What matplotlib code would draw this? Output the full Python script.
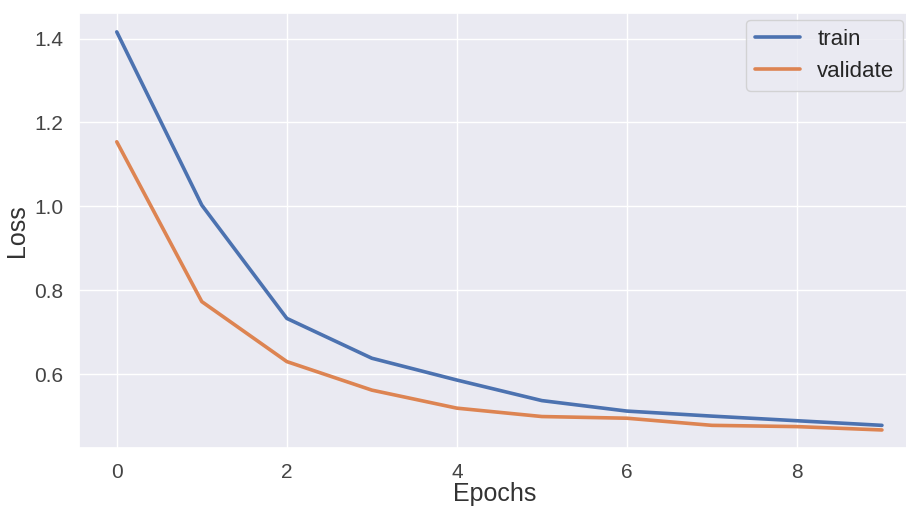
import numpy as np
import matplotlib
matplotlib.use("Agg")
import matplotlib.pyplot as plt
import seaborn as sns

# loss per epoch
epochs = np.arange(10)
train_loss = [1.416, 1.003, 0.733, 0.638, 0.586, 0.537, 0.512, 0.500, 0.489, 0.478]
val_loss = [1.154, 0.773, 0.630, 0.562, 0.519, 0.499, 0.495, 0.478, 0.475, 0.467]

sns.set_theme(style="darkgrid")
plt.rcParams['font.family'] = ['Liberation Sans', 'DejaVu Sans']

fig = plt.figure(figsize=(9.06, 5.08), dpi=100)
ax = fig.add_axes([78.5 / 906, 60 / 508, 831.5 / 906, 435 / 508])

ax.plot(epochs, train_loss, color='#4c72b0', lw=2.6, label='train')
ax.plot(epochs, val_loss, color='#dd8452', lw=2.6, label='validate')

ax.set_xlim(-0.45, 9.33)
ax.set_ylim(0.424, 1.461)
ax.set_yticks([0.6, 0.8, 1.0, 1.2, 1.4])
ax.tick_params(labelsize=15, colors='#444444', pad=5)
ax.set_xlabel("Epochs", fontsize=18, color='#333333', labelpad=0)
ax.set_ylabel("Loss", fontsize=18, color='#333333', labelpad=4)
ax.legend(loc='upper right', fontsize=16, borderaxespad=0.3)

fig.savefig("out.png", dpi=100)
